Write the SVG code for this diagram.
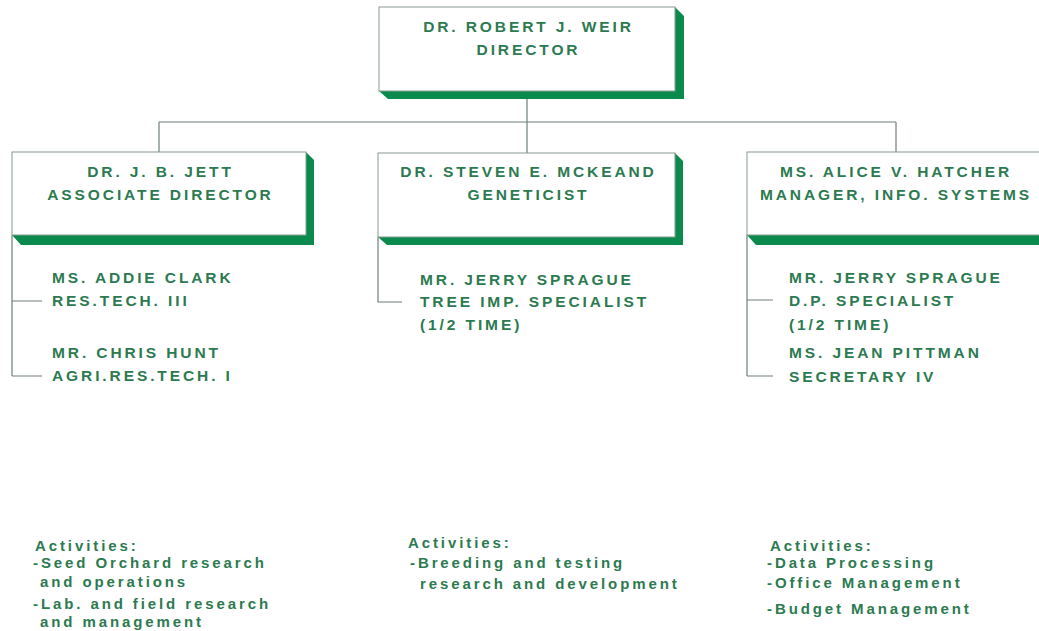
<svg xmlns="http://www.w3.org/2000/svg" width="1039" height="631" viewBox="0 0 1039 631">
<style>
.box{fill:#fff;stroke:#8a9a92;stroke-width:1}
.sh{fill:#0b8a4e}
.ln{fill:none;stroke:#6f8079;stroke-width:1.2}
.t{font-family:"Liberation Sans",Arial,sans-serif;font-weight:bold;font-size:15.5px;letter-spacing:2.9px;fill:#2c7a50}
.c{text-anchor:middle}
.a{font-family:"Liberation Sans",Arial,sans-serif;font-weight:bold;font-size:15px;letter-spacing:2.9px;fill:#2c7a50}
</style>
<rect width="1039" height="631" fill="#fff"/>
<g id="connectors">
<path class="ln" d="M527,99 V122 M159,122 H896 M159,122 V152 M527,122 V153 M896,122 V152"/>
<path class="ln" d="M12,235 V376 M12,301 H42 M12,376 H42"/>
<path class="ln" d="M378,237 V302 H402"/>
<path class="ln" d="M747,235 V376 M747,300 H773 M747,376 H773"/>
</g>
<g id="director">
<polygon class="sh" points="675,7 684,16 684,99 388,99 379,91 675,91"/>
<rect class="box" x="379" y="7" width="296" height="84"/>
<text class="t c" x="528.5" y="32">DR. ROBERT J. WEIR</text>
<text class="t c" x="528.5" y="55">DIRECTOR</text>
</g>
<g id="jett">
<polygon class="sh" points="306,152 314,160 314,245 21,245 12,235 306,235"/>
<rect class="box" x="12" y="152" width="294" height="83"/>
<text class="t c" x="160.5" y="177">DR. J. B. JETT</text>
<text class="t c" x="160.5" y="200">ASSOCIATE DIRECTOR</text>
</g>
<g id="mckeand">
<polygon class="sh" points="675,153 683,161 683,245 387,245 378,237 675,237"/>
<rect class="box" x="378" y="153" width="297" height="84"/>
<text class="t c" x="528.5" y="177">DR. STEVEN E. MCKEAND</text>
<text class="t c" x="528.5" y="200">GENETICIST</text>
</g>
<g id="hatcher">
<polygon class="sh" points="747,235 1044,235 1044,245 756,245"/>
<rect class="box" x="747" y="152" width="297" height="83"/>
<text class="t c" x="896" y="177">MS. ALICE V. HATCHER</text>
<text class="t c" x="896" y="200">MANAGER, INFO. SYSTEMS</text>
</g>
<g id="clark">
<text class="t" x="52" y="283">MS. ADDIE CLARK</text>
<text class="t" x="52" y="306">RES.TECH. III</text>
</g>
<g id="hunt">
<text class="t" x="52" y="358">MR. CHRIS HUNT</text>
<text class="t" x="52" y="381">AGRI.RES.TECH. I</text>
</g>
<g id="sprague-tree">
<text class="t" x="420" y="285">MR. JERRY SPRAGUE</text>
<text class="t" x="420" y="307">TREE IMP. SPECIALIST</text>
<text class="t" x="420" y="330">(1/2 TIME)</text>
</g>
<g id="sprague-dp">
<text class="t" x="789" y="283">MR. JERRY SPRAGUE</text>
<text class="t" x="789" y="306">D.P. SPECIALIST</text>
<text class="t" x="789" y="330">(1/2 TIME)</text>
</g>
<g id="pittman">
<text class="t" x="789" y="358">MS. JEAN PITTMAN</text>
<text class="t" x="789" y="382">SECRETARY IV</text>
</g>
<g id="activities-left">
<text class="a" x="35" y="551">Activities:</text>
<text class="a" x="33" y="568">-Seed Orchard research</text>
<text class="a" x="40" y="587">and operations</text>
<text class="a" x="33" y="609">-Lab. and field research</text>
<text class="a" x="40" y="627">and management</text>
</g>
<g id="activities-middle">
<text class="a" x="408" y="548">Activities:</text>
<text class="a" x="410" y="568">-Breeding and testing</text>
<text class="a" x="420" y="589">research and development</text>
</g>
<g id="activities-right">
<text class="a" x="770" y="551">Activities:</text>
<text class="a" x="767" y="568">-Data Processing</text>
<text class="a" x="767" y="588">-Office Management</text>
<text class="a" x="767" y="614">-Budget Management</text>
</g>
</svg>
